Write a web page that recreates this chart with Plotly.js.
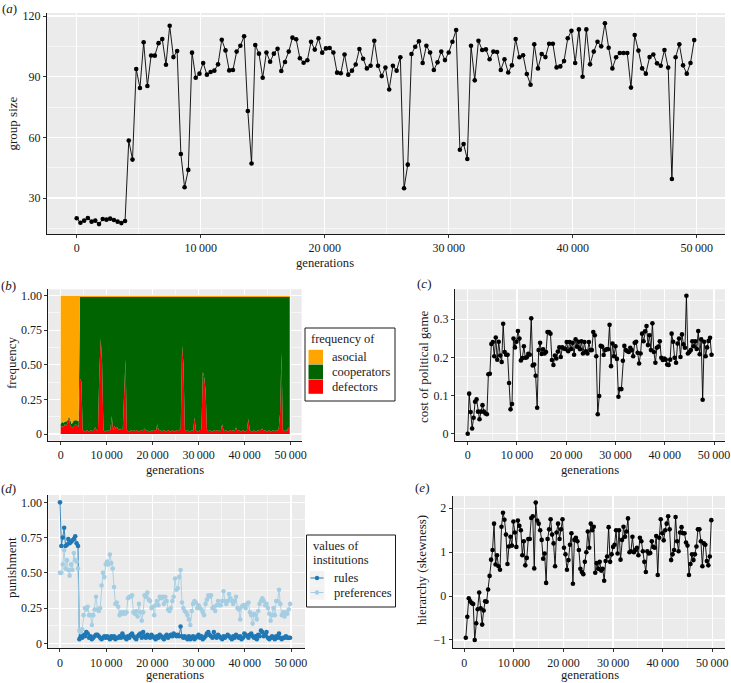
<!DOCTYPE html>
<html>
<head>
<meta charset="utf-8">
<script src="https://cdn.plot.ly/plotly-3.0.1.min.js"></script>
<style>
html,body{margin:0;padding:0;background:#fff;overflow:hidden;}
#chart{width:731px;height:683px;}
</style>
</head>
<body>
<div id="chart"></div>
<script>
// ---------------- DATA ----------------
const generations = [0,300,600,900,1200,1500,1800,2100,2400,2700,3000,3300,3600,3900,4200,4500,4800,5100,5400,5700,6000,6300,6600,6900,7200,7500,7800,8100,8400,8700,9000,9300,9600,9900,10200,10500,10800,11100,11400,11700,12000,12300,12600,12900,13200,13500,13800,14100,14400,14700,15000,15300,15600,15900,16200,16500,16800,17100,17400,17700,18000,18300,18600,18900,19200,19500,19800,20100,20400,20700,21000,21300,21600,21900,22200,22500,22800,23100,23400,23700,24000,24300,24600,24900,25200,25500,25800,26100,26400,26700,27000,27300,27600,27900,28200,28500,28800,29100,29400,29700,30000,30300,30600,30900,31200,31500,31800,32100,32400,32700,33000,33300,33600,33900,34200,34500,34800,35100,35400,35700,36000,36300,36600,36900,37200,37500,37800,38100,38400,38700,39000,39300,39600,39900,40200,40500,40800,41100,41400,41700,42000,42300,42600,42900,43200,43500,43800,44100,44400,44700,45000,45300,45600,45900,46200,46500,46800,47100,47400,47700,48000,48300,48600,48900,49200,49500,49800];

const groupSize = [
20,17.8,18.8,20.1,18.3,18.8,17.1,19.6,19.3,19.8,19.1,18.3,17.6,18.6,
58.4,49,93.8,84.4,107,85.4,100.5,100.4,106.6,108.6,
95.9,115.2,99.7,102.7,51.8,35.3,43.9,101.9,89.5,91.5,
96.8,91,92.3,93,96.1,108.3,103,93.1,93.3,102.4,
105.3,110,73,47.1,105.7,101.4,89.5,102,97.4,101.4,
103.8,92.8,97.3,102.4,109.3,108.5,99.1,96.9,98.1,107.3,
103.4,109,101.9,104,104.2,102,92,91.7,101,91,
93,96,103.7,98.9,
94.1,95.4,107.8,95.4,90.3,94.5,83.7,95.4,93,99.6,
34.8,46.5,101.2,104.8,107.5,96.8,105.3,102,93.3,97.1,
102.4,98.2,102,107.3,113.1,53.9,56.7,49.3,105.3,88.2,
107.8,103.2,103.5,98.6,102.4,102.2,93.3,98.6,92.1,95.6,
108.6,99.6,100.6,91.3,86,106,94.1,101.2,99.7,106.3,
106.3,94.6,95.1,97.7,109,112.7,96.8,113.4,90,113.4,
96.1,102.4,107.3,105,116.4,104.3,94.1,99.6,101.7,101.7,
101.7,84.6,110.6,102.9,94.1,91.5,99.7,101,96.6,95.4,
103.2,94.5,39.4,99.6,106,95.6,91.5,96.8,108.1];

const defectors = [
0.05,0.06,0.05,0.07,0.06,0.08,0.12,0.06,0.05,0.05,0.06,0.07,0.06,0.05,
0.40,0.38,0.03,0.02,0.02,0.03,0.02,0.02,0.03,0.02,
0.03,0.05,0.03,0.02,0.44,0.69,0.52,0.03,0.02,0.02,
0.03,0.02,0.03,0.13,0.03,0.06,0.04,0.05,0.03,0.04,
0.03,0.03,0.30,0.54,0.03,0.02,0.02,0.03,0.02,0.03,
0.02,0.03,0.02,0.02,0.03,0.02,0.03,0.04,0.02,0.03,
0.02,0.02,0.03,0.02,0.03,0.02,0.07,0.03,0.02,0.03,
0.02,0.03,0.02,0.02,0.03,0.02,0.02,0.03,0.02,0.02,
0.03,0.02,0.03,0.04,0.64,0.50,0.03,0.02,0.03,0.02,
0.02,0.03,0.02,0.12,0.03,0.02,0.02,0.03,0.03,0.45,
0.41,0.32,0.03,0.02,0.03,0.02,0.02,0.03,0.02,0.03,
0.02,0.03,0.02,0.07,0.03,0.02,0.03,0.02,0.02,0.03,
0.02,0.03,0.02,0.05,0.02,0.03,0.02,0.02,0.03,0.02,
0.02,0.03,0.11,0.03,0.02,0.02,0.03,0.02,0.02,0.03,
0.02,0.03,0.04,0.02,0.03,0.02,0.02,0.03,0.02,0.02,
0.03,0.02,0.03,0.02,0.04,0.15,0.59,0.03,0.02,0.03,
0.02,0.05,0.03];

const cooperators = [
0.02,0.03,0.03,0.02,0.03,0.02,0.01,0.03,0.02,0.04,0.04,0.03,0.04,0.04,
0.59,0.61,0.96,0.97,0.97,0.96,0.97,0.97,0.96,0.97,
0.96,0.94,0.96,0.97,0.55,0.30,0.47,0.96,0.97,0.97,
0.96,0.97,0.96,0.86,0.96,0.93,0.95,0.94,0.96,0.95,
0.96,0.96,0.69,0.45,0.96,0.97,0.97,0.96,0.97,0.96,
0.97,0.96,0.97,0.97,0.96,0.97,0.96,0.95,0.97,0.96,
0.97,0.97,0.96,0.97,0.96,0.97,0.92,0.96,0.97,0.96,
0.97,0.96,0.97,0.97,0.96,0.97,0.97,0.96,0.97,0.97,
0.96,0.97,0.96,0.95,0.35,0.49,0.96,0.97,0.96,0.97,
0.97,0.96,0.97,0.87,0.96,0.97,0.97,0.96,0.96,0.54,
0.58,0.67,0.96,0.97,0.96,0.97,0.97,0.96,0.97,0.96,
0.97,0.96,0.97,0.92,0.96,0.97,0.96,0.97,0.97,0.96,
0.97,0.96,0.97,0.94,0.97,0.96,0.97,0.97,0.96,0.97,
0.97,0.96,0.88,0.96,0.97,0.97,0.96,0.97,0.97,0.96,
0.97,0.96,0.95,0.97,0.96,0.97,0.97,0.96,0.97,0.97,
0.96,0.97,0.96,0.97,0.95,0.84,0.40,0.96,0.97,0.96,
0.97,0.94,0.96];

const asocial = [
0.93,0.91,0.92,0.91,0.91,0.90,0.87,0.91,0.93,0.91,0.90,0.90,0.90,0.91,
0.01,0.01,0.01,0.01,0.01,0.01,0.01,0.01,0.01,0.01,
0.01,0.01,0.01,0.01,0.01,0.01,0.01,0.01,0.01,0.01,
0.01,0.01,0.01,0.01,0.01,0.01,0.01,0.01,0.01,0.01,
0.01,0.01,0.01,0.01,0.01,0.01,0.01,0.01,0.01,0.01,
0.01,0.01,0.01,0.01,0.01,0.01,0.01,0.01,0.01,0.01,
0.01,0.01,0.01,0.01,0.01,0.01,0.01,0.01,0.01,0.01,
0.01,0.01,0.01,0.01,0.01,0.01,0.01,0.01,0.01,0.01,
0.01,0.01,0.01,0.01,0.01,0.01,0.01,0.01,0.01,0.01,
0.01,0.01,0.01,0.01,0.01,0.01,0.01,0.01,0.01,0.01,
0.01,0.01,0.01,0.01,0.01,0.01,0.01,0.01,0.01,0.01,
0.01,0.01,0.01,0.01,0.01,0.01,0.01,0.01,0.01,0.01,
0.01,0.01,0.01,0.01,0.01,0.01,0.01,0.01,0.01,0.01,
0.01,0.01,0.01,0.01,0.01,0.01,0.01,0.01,0.01,0.01,
0.01,0.01,0.01,0.01,0.01,0.01,0.01,0.01,0.01,0.01,
0.01,0.01,0.01,0.01,0.01,0.01,0.01,0.01,0.01,0.01,
0.01,0.01,0.01];

const politicalCost = [
0,0.105,0.057,0.014,0.042,0.084,0.09,0.058,0.038,0.058,
0.075,0.058,0.053,0.051,0.156,0.157,0.235,0.24,0.203,0.252,
0.194,0.241,0.205,0.188,0.288,0.214,0.207,0.207,0.133,0.064,
0.078,0.249,0.226,0.241,0.269,0.249,0.192,0.198,0.229,0.199,
0.2,0.209,0.207,0.302,0.179,0.181,0.152,0.068,0.219,0.238,
0.209,0.221,0.21,0.214,0.266,0.266,0.262,0.193,0.18,0.205,
0.197,0.215,0.226,0.201,0.226,0.223,0.222,0.24,0.216,0.24,
0.222,0.238,0.207,0.247,0.228,0.241,0.221,0.242,0.21,0.24,
0.216,0.21,0.24,0.219,0.219,0.266,0.258,0.203,0.051,0.099,
0.23,0.228,0.206,0.219,0.221,0.221,0.285,0.177,0.236,0.203,
0.229,0.196,0.097,0.117,0.117,0.191,0.23,0.219,0.216,0.214,
0.225,0.219,0.203,0.238,0.241,0.212,0.184,0.21,0.262,0.242,
0.268,0.282,0.232,0.258,0.219,0.289,0.214,0.186,0.225,0.228,
0.242,0.199,0.193,0.197,0.194,0.181,0.18,0.194,0.262,0.241,
0.199,0.186,0.236,0.249,0.201,0.26,0.234,0.225,0.361,0.21,
0.214,0.219,0.242,0.229,0.242,0.222,0.269,0.208,0.247,0.089,
0.241,0.203,0.226,0.243,0.251,0.207];

const rules = [
1.00,0.69,0.75,0.82,0.69,0.70,0.74,0.71,0.72,0.73,0.74,0.76,0.71,0.69,
0.03,0.05,0.04,0.06,0.05,0.08,0.07,0.04,0.05,0.03,
0.04,0.05,0.06,0.06,0.05,0.04,0.03,0.04,0.05,0.04,
0.05,0.04,0.03,0.05,0.04,0.05,0.03,0.04,0.04,0.05,
0.04,0.07,0.05,0.04,0.03,0.05,0.04,0.06,0.07,0.05,
0.04,0.03,0.05,0.06,0.07,0.04,0.08,0.05,0.04,0.06,
0.05,0.04,0.06,0.05,0.04,0.03,0.05,0.04,0.06,0.05,
0.04,0.03,0.05,0.06,0.04,0.05,0.06,0.05,0.07,0.06,
0.05,0.06,0.05,0.12,0.05,0.04,0.05,0.04,0.03,0.05,
0.03,0.04,0.05,0.03,0.04,0.05,0.06,0.04,0.05,0.03,
0.04,0.05,0.07,0.08,0.06,0.05,0.04,0.08,0.05,0.04,
0.06,0.05,0.04,0.03,0.05,0.04,0.05,0.06,0.05,0.04,
0.03,0.05,0.04,0.06,0.05,0.04,0.05,0.03,0.04,0.07,
0.06,0.05,0.04,0.06,0.07,0.05,0.04,0.05,0.03,0.06,
0.05,0.09,0.08,0.05,0.06,0.08,0.04,0.03,0.04,0.05,
0.04,0.03,0.05,0.04,0.07,0.04,0.03,0.04,0.04,0.05,
0.04,0.04,0.04];

const preferences = [
0.50,0.50,0.56,0.66,0.53,0.59,0.52,0.48,0.56,0.52,0.64,0.59,0.58,0.53,
0.09,0.08,0.1,0.2,0.25,0.24,0.26,0.2,0.2,0.13,
0.2,0.24,0.33,0.24,0.23,0.25,0.41,0.5,0.47,0.56,
0.58,0.56,0.63,0.57,0.53,0.4,0.28,0.29,0.26,0.2,
0.22,0.21,0.22,0.21,0.22,0.32,0.33,0.33,0.34,0.22,
0.21,0.23,0.19,0.28,0.22,0.16,0.22,0.34,0.33,0.36,
0.31,0.3,0.25,0.26,0.2,0.27,0.3,0.27,0.33,0.32,
0.33,0.28,0.33,0.3,0.24,0.23,0.25,0.3,0.33,0.46,
0.38,0.39,0.47,0.52,0.29,0.25,0.23,0.22,0.2,0.17,
0.13,0.23,0.28,0.3,0.29,0.25,0.27,0.25,0.24,0.22,
0.2,0.28,0.31,0.34,0.33,0.34,0.25,0.26,0.23,0.27,
0.3,0.27,0.27,0.3,0.37,0.3,0.28,0.3,0.35,0.32,
0.3,0.28,0.3,0.33,0.25,0.24,0.17,0.26,0.27,0.27,
0.25,0.28,0.29,0.22,0.2,0.14,0.21,0.2,0.17,0.23,
0.28,0.3,0.32,0.3,0.27,0.28,0.25,0.21,0.16,0.2,
0.25,0.2,0.3,0.3,0.38,0.28,0.2,0.22,0.19,0.22,
0.21,0.24,0.28];

const hierarchy = [
-0.95,-0.47,-0.05,-0.12,-0.16,-0.18,-1.0,-0.62,-0.3,0.08,
-0.28,-0.65,-0.33,-0.12,-0.13,0.15,0.46,0.83,1.05,1.65,
0.72,0.93,0.68,0.6,1.58,1.9,1.74,1.4,0.73,1.13,
1.35,1.15,1.7,1.45,1.12,1.72,1.6,1.5,0.93,1.25,
0.7,0.87,1.3,1.3,1.78,1.82,0.63,2.13,1.72,1.65,
1.5,1.28,0.85,0.97,0.3,1.3,1.52,1.75,1.4,1.2,
0.68,1.45,1.65,1.3,1.52,1.75,1.1,0.95,0.6,0.82,
1.17,1.43,0.28,1.28,1.33,1.25,1.05,0.62,0.55,0.5,
0.78,1.0,1.47,1.1,1.65,1.5,1.58,0.53,0.75,0.62,
0.78,0.58,0.62,0.35,0.8,0.9,1.57,0.78,0.95,1.12,
1.17,1.5,0.97,1.5,0.83,1.28,1.58,1.35,1.47,1.77,
1.0,1.02,1.35,1.0,1.05,1.1,0.93,1.33,1.25,1.02,
0.78,0.55,1.02,0.97,0.98,1.25,1.12,1.1,1.37,0.48,
1.33,1.75,1.43,1.27,1.5,1.65,1.82,1.52,0.82,0.95,
1.05,1.8,1.25,1.02,1.45,1.57,1.43,1.43,1.22,1.15,
0.48,0.73,0.95,0.82,0.95,1.13,1.52,1.52,1.25,0.68,
1.2,1.17,0.8,0.7,0.9,1.73];

const xTickVals = [0,10000,20000,30000,40000,50000];
const xTickText = ['0','10\u2009000','20\u2009000','30\u2009000','40\u2009000','50\u2009000'];
const xMinor = [5000,15000,25000,35000,45000];
const aTickVals = [30,60,90,120];
const aTickText = ['30','60','90','120'];
const aMinor = [15,45,75,105];
const fracTickVals = [0,0.25,0.5,0.75,1];
const fracTickText = ['0','0.25','0.50','0.75','1.00'];
const fracMinor = [0.125,0.375,0.625,0.875];
const costTickVals = [0,0.1,0.2,0.3];
const costTickText = ['0','0.1','0.2','0.3'];
const costMinor = [0.05,0.15,0.25,0.35];
const hierTickVals = [-1,0,1,2];
const hierTickText = ['\u22121','0','1','2'];
const hierMinor = [-0.5,0.5,1.5];

const freqLabels = ['asocial','cooperators','defectors'];
const instLabels = ['rules','preferences'];

// ---------------- LAYOUT HELPERS ----------------
const W = 731, H = 683;
const FONT = '"Liberation Serif", "Times New Roman", Times, serif';
const TXT = '#1a1a1a';
const X = p => p / W;
const Y = p => 1 - p / H;

const P = {
  a: {l:47,   r:725,   t:13,    b:234},
  b: {l:48.3, r:301.7, t:289.3, b:440.7},
  c: {l:455,  r:725,   t:289.3, b:440.7},
  d: {l:48.3, r:305,   t:495,   b:648.3},
  e: {l:452.7,r:725,   t:496,   b:648.3}
};

function axis(p, dir, range, tv, tt, minor, anchor) {
  return {
    domain: dir === 'x' ? [X(p.l), X(p.r)] : [Y(p.b), Y(p.t)],
    range: range, anchor: anchor,
    showline: true, linecolor: '#1a1a1a', linewidth: 1, mirror: false,
    ticks: 'outside', ticklen: 3, tickwidth: 1, tickcolor: '#333',
    showgrid: true, gridcolor: '#ffffff', gridwidth: 1.2,
    zeroline: false, tickmode: 'array', tickvals: tv, ticktext: tt,
    ticklabeloverflow: 'allow',
    tickfont: {family: FONT, size: 12, color: TXT},
    minor: {tickmode: 'array', tickvals: minor, showgrid: true, gridcolor: '#ffffff', gridwidth: 0.55, ticks: ''},
    fixedrange: true
  };
}

const layout = {
  width: W, height: H,
  margin: {l:0, r:0, t:0, b:0, pad:0},
  paper_bgcolor: '#ffffff',
  plot_bgcolor: '#EBEBEB',
  showlegend: false,
  font: {family: FONT, color: TXT},
  xaxis:  axis(P.a, 'x', [-2395, 52282], xTickVals, xTickText, xMinor, 'y'),
  yaxis:  axis(P.a, 'y', [12.2, 121.5], aTickVals, aTickText, aMinor, 'x'),
  xaxis2: axis(P.b, 'x', [-2690, 52400], xTickVals, xTickText, xMinor, 'y2'),
  yaxis2: axis(P.b, 'y', [-0.048, 1.046], fracTickVals, fracTickText, fracMinor, 'x2'),
  xaxis3: axis(P.c, 'x', [-2578, 52233], xTickVals, xTickText, xMinor, 'y3'),
  yaxis3: axis(P.c, 'y', [-0.018, 0.378], costTickVals, costTickText, costMinor, 'x3'),
  xaxis4: axis(P.d, 'x', [-2530, 53030], xTickVals, xTickText, xMinor, 'y4'),
  yaxis4: axis(P.d, 'y', [-0.035, 1.052], fracTickVals, fracTickText, fracMinor, 'x4'),
  xaxis5: axis(P.e, 'x', [-2339, 52560], xTickVals, xTickText, xMinor, 'y5'),
  yaxis5: axis(P.e, 'y', [-1.19, 2.28], hierTickVals, hierTickText, hierMinor, 'x5'),
  annotations: [],
  shapes: []
};

function ann(text, x, y, extra) {
  return Object.assign({
    text: text, x: X(x), y: Y(y), xref: 'paper', yref: 'paper',
    showarrow: false, xanchor: 'center', yanchor: 'middle',
    font: {family: FONT, size: 13, color: TXT}
  }, extra || {});
}
const titleFont = {family: FONT, size: 12.6, color: TXT};

// panel labels
layout.annotations.push(ann('(<i>a</i>)', 9, 8));
layout.annotations.push(ann('(<i>b</i>)', 8, 285));
layout.annotations.push(ann('(<i>c</i>)', 424, 283));
layout.annotations.push(ann('(<i>d</i>)', 8, 488));
layout.annotations.push(ann('(<i>e</i>)', 422, 487));

// axis titles
layout.annotations.push(ann('group size', 12, 123.5, {textangle: -90}));
layout.annotations.push(ann('generations', 325, 263, {font: titleFont}));
layout.annotations.push(ann('frequency', 11, 363, {textangle: -90}));
layout.annotations.push(ann('generations', 175, 470, {font: titleFont}));
layout.annotations.push(ann('cost of political game', 423, 366, {textangle: -90}));
layout.annotations.push(ann('generations', 590, 470, {font: titleFont}));
layout.annotations.push(ann('punishment', 11, 568, {textangle: -90}));
layout.annotations.push(ann('generations', 175, 683, {font: titleFont, yanchor: 'bottom', borderpad: 0}));
layout.annotations.push(ann('hierarchy (skewness)', 421, 570, {textangle: -90}));
layout.annotations.push(ann('generations', 590, 683, {font: titleFont, yanchor: 'bottom', borderpad: 0}));

// legend (b)
const freqColors = ['#FFA500', '#006400', '#FF0000'];
layout.shapes.push({type:'rect', xref:'paper', yref:'paper', x0:X(305), x1:X(395), y0:Y(401), y1:Y(328),
  line:{color:'#1a1a1a', width:1}, fillcolor:'#ffffff', layer:'above'});
layout.annotations.push(ann('frequency of', 309, 339, {xanchor:'left', font:{family:FONT, size:12.5, color:TXT}}));
freqLabels.forEach((lab, i) => {
  const yc = 357 + i * 14.8;
  layout.shapes.push({type:'rect', xref:'paper', yref:'paper', x0:X(308.5), x1:X(323), y0:Y(yc + 7.2), y1:Y(yc - 7.2),
    line:{width:0}, fillcolor:freqColors[i], layer:'above'});
  layout.annotations.push(ann(lab, 330, yc, {xanchor:'left', font:{family:FONT, size:12.5, color:TXT}}));
});

// legend (d)
const instColors = ['#1F78B4', '#A6CEE3'];
layout.shapes.push({type:'rect', xref:'paper', yref:'paper', x0:X(306.5), x1:X(395.5), y0:Y(607), y1:Y(535),
  line:{color:'#1a1a1a', width:1}, fillcolor:'#ffffff', layer:'above'});
layout.annotations.push(ann('values of', 311, 546, {xanchor:'left', font:{family:FONT, size:12.5, color:TXT}}));
layout.annotations.push(ann('institutions', 311, 559.5, {xanchor:'left', font:{family:FONT, size:12.5, color:TXT}}));
instLabels.forEach((lab, i) => {
  const yc = 578 + i * 14.5;
  layout.shapes.push({type:'rect', xref:'paper', yref:'paper', x0:X(309.5), x1:X(324.5), y0:Y(yc + 7.2), y1:Y(yc - 7.2),
    line:{width:0}, fillcolor:'#F2F2F2', layer:'above'});
  layout.shapes.push({type:'line', xref:'paper', yref:'paper', x0:X(310.5), x1:X(323.5), y0:Y(yc), y1:Y(yc),
    line:{color:instColors[i], width:1}, layer:'above'});
  layout.shapes.push({type:'circle', xref:'paper', yref:'paper', x0:X(314.8), x1:X(319.2), y0:Y(yc + 2.2), y1:Y(yc - 2.2),
    line:{width:0}, fillcolor:instColors[i], layer:'above'});
  layout.annotations.push(ann(lab, 332, yc, {xanchor:'left', font:{family:FONT, size:12.5, color:TXT}}));
});

// ---------------- TRACES ----------------
const lineMarker = (color) => ({
  mode: 'lines+markers',
  line: {color: color, width: 0.9},
  marker: {color: color, size: 4.6, line: {width: 0}},
  hoverinfo: 'skip'
});

const traces = [
  Object.assign({x: generations, y: groupSize, xaxis: 'x', yaxis: 'y'}, lineMarker('#000000')),

  {x: generations, y: defectors, xaxis: 'x2', yaxis: 'y2', stackgroup: 'freq', mode: 'lines',
   line: {width: 0, color: freqColors[2]}, fillcolor: freqColors[2], name: freqLabels[2], hoverinfo: 'skip'},
  {x: generations, y: cooperators, xaxis: 'x2', yaxis: 'y2', stackgroup: 'freq', mode: 'lines',
   line: {width: 0, color: freqColors[1]}, fillcolor: freqColors[1], name: freqLabels[1], hoverinfo: 'skip'},
  {x: generations, y: asocial, xaxis: 'x2', yaxis: 'y2', stackgroup: 'freq', mode: 'lines',
   line: {width: 0, color: freqColors[0]}, fillcolor: freqColors[0], name: freqLabels[0], hoverinfo: 'skip'},

  Object.assign({x: generations.slice(0, politicalCost.length), y: politicalCost, xaxis: 'x3', yaxis: 'y3'}, lineMarker('#000000')),

  Object.assign({x: generations, y: rules, xaxis: 'x4', yaxis: 'y4', name: instLabels[0]}, lineMarker(instColors[0])),
  Object.assign({x: generations, y: preferences, xaxis: 'x4', yaxis: 'y4', name: instLabels[1]}, lineMarker(instColors[1])),

  Object.assign({x: generations.slice(1), y: hierarchy, xaxis: 'x5', yaxis: 'y5'}, lineMarker('#000000'))
];

Plotly.newPlot('chart', traces, layout, {displayModeBar: false, staticPlot: true});
</script>
</body>
</html>
